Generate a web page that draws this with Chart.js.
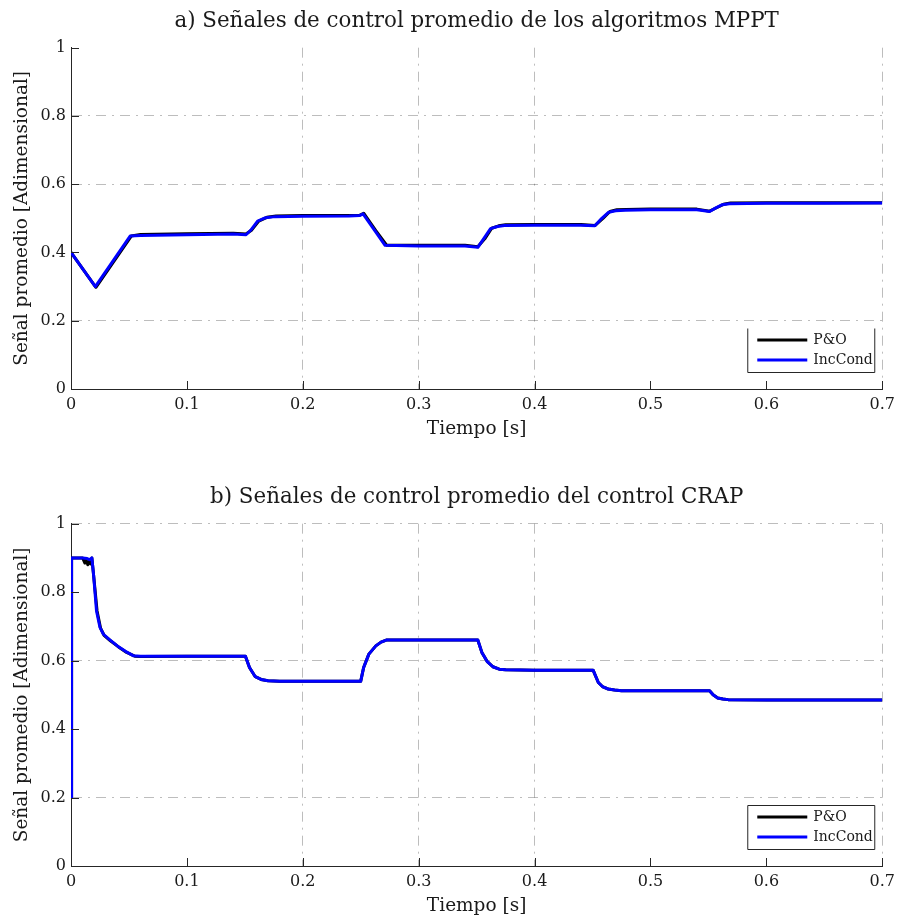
<!DOCTYPE html>
<html>
<head>
<meta charset="utf-8">
<script src="https://cdn.jsdelivr.net/npm/chart.js@4.4.0/dist/chart.umd.min.js"></script>
<style>
  html, body { margin: 0; padding: 0; background: #fff; }
  #wrap { position: relative; width: 901px; height: 917px; }
  .box { position: absolute; left: 0; width: 901px; }
  #boxA { top: 0; height: 476px; }
  #boxB { top: 476px; height: 441px; }
</style>
</head>
<body>
<div id="wrap">
  <div class="box" id="boxA"><canvas id="chartA"></canvas></div>
  <div class="box" id="boxB"><canvas id="chartB"></canvas></div>
</div>
<script>
// a) señales de los algoritmos MPPT
var titleA = 'a) Señales de control promedio de los algoritmos MPPT'
var timePOa = [0, 0.0215, 0.052, 0.06, 0.10, 0.14, 0.151, 0.156, 0.162, 0.169, 0.177, 0.20, 0.24, 0.249, 0.2525, 0.263, 0.2725, 0.30, 0.34, 0.351, 0.357, 0.363, 0.369, 0.375, 0.40, 0.44, 0.452, 0.459, 0.465, 0.471, 0.479, 0.50, 0.54, 0.551, 0.557, 0.563, 0.569, 0.60, 0.65, 0.70]
var poA = [0.40, 0.298, 0.448, 0.453, 0.455, 0.456, 0.454, 0.466, 0.492, 0.503, 0.507, 0.508, 0.508, 0.509, 0.515, 0.464, 0.421, 0.421, 0.421, 0.417, 0.44, 0.471, 0.478, 0.481, 0.482, 0.482, 0.479, 0.50, 0.520, 0.525, 0.526, 0.527, 0.527, 0.521, 0.531, 0.541, 0.545, 0.546, 0.546, 0.546]
var timeICa = [0, 0.021, 0.051, 0.06, 0.10, 0.14, 0.151, 0.155, 0.161, 0.168, 0.176, 0.20, 0.24, 0.249, 0.252, 0.262, 0.271, 0.30, 0.34, 0.351, 0.356, 0.362, 0.368, 0.374, 0.40, 0.44, 0.452, 0.458, 0.464, 0.47, 0.478, 0.50, 0.54, 0.551, 0.556, 0.562, 0.568, 0.60, 0.65, 0.70]
var icA = [0.40, 0.30, 0.448, 0.450, 0.452, 0.454, 0.452, 0.465, 0.492, 0.502, 0.505, 0.506, 0.507, 0.508, 0.513, 0.465, 0.421, 0.419, 0.419, 0.415, 0.44, 0.470, 0.476, 0.479, 0.480, 0.480, 0.478, 0.50, 0.518, 0.522, 0.524, 0.525, 0.525, 0.520, 0.530, 0.540, 0.543, 0.544, 0.544, 0.545]

// b) señales del control CRAP
var titleB = 'b) Señales de control promedio del control CRAP'
var timePOb = [0, 0.0005, 0.010, 0.012, 0.013, 0.0145, 0.016, 0.017, 0.018, 0.0195, 0.0225, 0.0255, 0.0285, 0.034, 0.041, 0.048, 0.055, 0.06, 0.10, 0.1505, 0.154, 0.159, 0.164, 0.170, 0.18, 0.20, 0.25, 0.2525, 0.257, 0.263, 0.2675, 0.272, 0.30, 0.351, 0.3545, 0.359, 0.364, 0.3695, 0.375, 0.40, 0.4505, 0.455, 0.459, 0.4635, 0.469, 0.475, 0.50, 0.551, 0.554, 0.558, 0.5625, 0.567, 0.60, 0.65, 0.70]
var poB = [0.20, 0.90, 0.90, 0.885, 0.895, 0.88, 0.893, 0.882, 0.90, 0.85, 0.745, 0.695, 0.674, 0.658, 0.640, 0.624, 0.613, 0.612, 0.613, 0.613, 0.58, 0.553, 0.545, 0.541, 0.540, 0.540, 0.540, 0.58, 0.619, 0.643, 0.654, 0.660, 0.660, 0.660, 0.624, 0.598, 0.582, 0.575, 0.573, 0.572, 0.572, 0.536, 0.523, 0.517, 0.514, 0.512, 0.512, 0.512, 0.50, 0.491, 0.488, 0.486, 0.485, 0.485, 0.485]
var timeICb = [0, 0.0005, 0.010, 0.014, 0.016, 0.018, 0.0195, 0.022, 0.025, 0.028, 0.033, 0.040, 0.047, 0.054, 0.06, 0.10, 0.1505, 0.154, 0.159, 0.164, 0.170, 0.18, 0.20, 0.25, 0.2525, 0.257, 0.263, 0.2675, 0.272, 0.30, 0.351, 0.3545, 0.359, 0.364, 0.3695, 0.375, 0.40, 0.4505, 0.455, 0.459, 0.4635, 0.469, 0.475, 0.50, 0.551, 0.554, 0.558, 0.5625, 0.567, 0.60, 0.65, 0.70]
var icB = [0.20, 0.90, 0.90, 0.898, 0.895, 0.90, 0.85, 0.745, 0.697, 0.677, 0.662, 0.643, 0.627, 0.614, 0.613, 0.613, 0.613, 0.58, 0.553, 0.545, 0.541, 0.540, 0.540, 0.540, 0.58, 0.619, 0.643, 0.654, 0.660, 0.660, 0.660, 0.624, 0.598, 0.582, 0.575, 0.573, 0.572, 0.572, 0.536, 0.523, 0.517, 0.514, 0.512, 0.512, 0.512, 0.50, 0.491, 0.488, 0.486, 0.485, 0.485, 0.485]

var seriesNames = ['P&O', 'IncCond']
var xLabel = 'Tiempo [s]'
var yLabel = 'Señal promedio [Adimensional]'

// grid lines that show in the picture
var gridXa = [0.2, 0.3, 0.4, 0.7]
var gridYa = [0.2, 0.6, 0.8]
var gridXb = [0.2, 0.3, 0.4, 0.7]
var gridYb = [0.2, 0.6, 1]

Chart.defaults.font.family = "'DejaVu Serif', serif"
Chart.defaults.color = '#1a1a1a'

function toPoints(ts, vs) {
  return ts.map((t, i) => ({ x: t, y: vs[i] }))
}

function near(list, v) {
  return list.some(g => Math.abs(g - v) < 1e-6)
}

// matlab style labels: 0, 0.2, ... 1
function tickText(v) {
  return String(Math.round(v * 10) / 10)
}

// small tick marks pointing into the plot, like matlab
var insideTicks = {
  id: 'insideTicks',
  afterDatasetsDraw(chart) {
    const { ctx, chartArea, scales } = chart
    ctx.save()
    ctx.strokeStyle = '#262626'
    ctx.lineWidth = 1
    ctx.beginPath()
    scales.x.ticks.forEach(t => {
      const px = Math.round(scales.x.getPixelForValue(t.value)) + 0.5
      ctx.moveTo(px, chartArea.bottom)
      ctx.lineTo(px, chartArea.bottom - 8)
    })
    scales.y.ticks.forEach(t => {
      const py = Math.round(scales.y.getPixelForValue(t.value)) + 0.5
      ctx.moveTo(chartArea.left, py)
      ctx.lineTo(chartArea.left + 8, py)
    })
    ctx.stroke()
    ctx.restore()
  }
}

// legend box in the lower right corner
var boxLegend = {
  id: 'boxLegend',
  afterDraw(chart, args, opts) {
    const { ctx, chartArea } = chart
    const w = 128, h = 45
    const x = chartArea.right - 7 - w
    const y = chartArea.bottom - 16 - h
    ctx.save()
    ctx.fillStyle = '#fff'
    ctx.fillRect(x, y, w, h)
    ctx.strokeStyle = '#262626'
    ctx.lineWidth = 1
    ctx.beginPath()
    if (opts.topEdge) {
      ctx.moveTo(x + 0.5, y + 0.5)
      ctx.lineTo(x + w - 0.5, y + 0.5)
    }
    ctx.moveTo(x + w - 0.5, y + 0.5)
    ctx.lineTo(x + w - 0.5, y + h - 0.5)
    ctx.lineTo(x + 0.5, y + h - 0.5)
    ctx.lineTo(x + 0.5, y + 0.5)
    ctx.stroke()
    ctx.font = "14px 'DejaVu Serif'"
    ctx.textBaseline = 'middle'
    ctx.fillStyle = '#1a1a1a'
    chart.data.datasets.forEach((ds, i) => {
      const ry = y + 12 + i * 20
      ctx.strokeStyle = ds.borderColor
      ctx.lineWidth = 3
      ctx.beginPath()
      ctx.moveTo(x + 10, ry)
      ctx.lineTo(x + 60, ry)
      ctx.stroke()
      ctx.fillText(ds.label, x + 66, ry)
    })
    ctx.restore()
  }
}

function makeChart(id, title, po, ic, gridX, gridY, topEdge, padBottom) {
  return new Chart(document.getElementById(id), {
    type: 'line',
    data: {
      datasets: [
        { label: seriesNames[0], data: po, borderColor: '#000000', borderWidth: 3, pointRadius: 0, borderJoinStyle: 'round', order: 1 },
        { label: seriesNames[1], data: ic, borderColor: '#0000ff', borderWidth: 3, pointRadius: 0, borderJoinStyle: 'round', order: 0 }
      ]
    },
    options: {
      responsive: true,
      maintainAspectRatio: false,
      animation: false,
      layout: { padding: { left: 0, right: 16, top: 0, bottom: padBottom } },
      plugins: {
        legend: { display: false },
        tooltip: { enabled: false },
        title: {
          display: true,
          fullSize: false,
          text: title,
          font: { size: 21.4, weight: 'normal' },
          color: '#1a1a1a',
          padding: { top: 9, bottom: 13 }
        },
        boxLegend: { topEdge: topEdge }
      },
      scales: {
        x: {
          type: 'linear',
          min: 0,
          max: 0.7,
          afterFit: s => { s.height = 51 },
          ticks: { stepSize: 0.1, padding: 6, font: { size: 16 }, maxRotation: 0, callback: tickText },
          grid: {
            drawTicks: false,
            lineWidth: 1,
            color: c => near(gridX, c.tick.value) ? 'rgba(0,0,0,0.26)' : 'rgba(0,0,0,0)'
          },
          border: { display: true, color: '#262626', width: 1, dash: [10, 6, 2, 6] },
          title: { display: true, text: xLabel, font: { size: 18.5 }, padding: { top: 0, bottom: 0 } }
        },
        y: {
          min: 0,
          max: 1,
          afterFit: s => { s.width = 71 },
          ticks: { stepSize: 0.2, padding: 5, font: { size: 16 }, callback: tickText },
          grid: {
            drawTicks: false,
            lineWidth: 1,
            color: c => near(gridY, c.tick.value) ? 'rgba(0,0,0,0.26)' : 'rgba(0,0,0,0)'
          },
          border: { display: true, color: '#262626', width: 1, dash: [10, 6, 2, 6] },
          title: { display: true, text: yLabel, font: { size: 18.5 }, padding: { top: 11, bottom: 0 } }
        }
      }
    },
    plugins: [insideTicks, boxLegend]
  })
}

makeChart('chartA', titleA, toPoints(timePOa, poA), toPoints(timeICa, icA), gridXa, gridYa, false, 36)
makeChart('chartB', titleB, toPoints(timePOb, poB), toPoints(timeICb, icB), gridXb, gridYb, true, 0)
</script>
</body>
</html>
